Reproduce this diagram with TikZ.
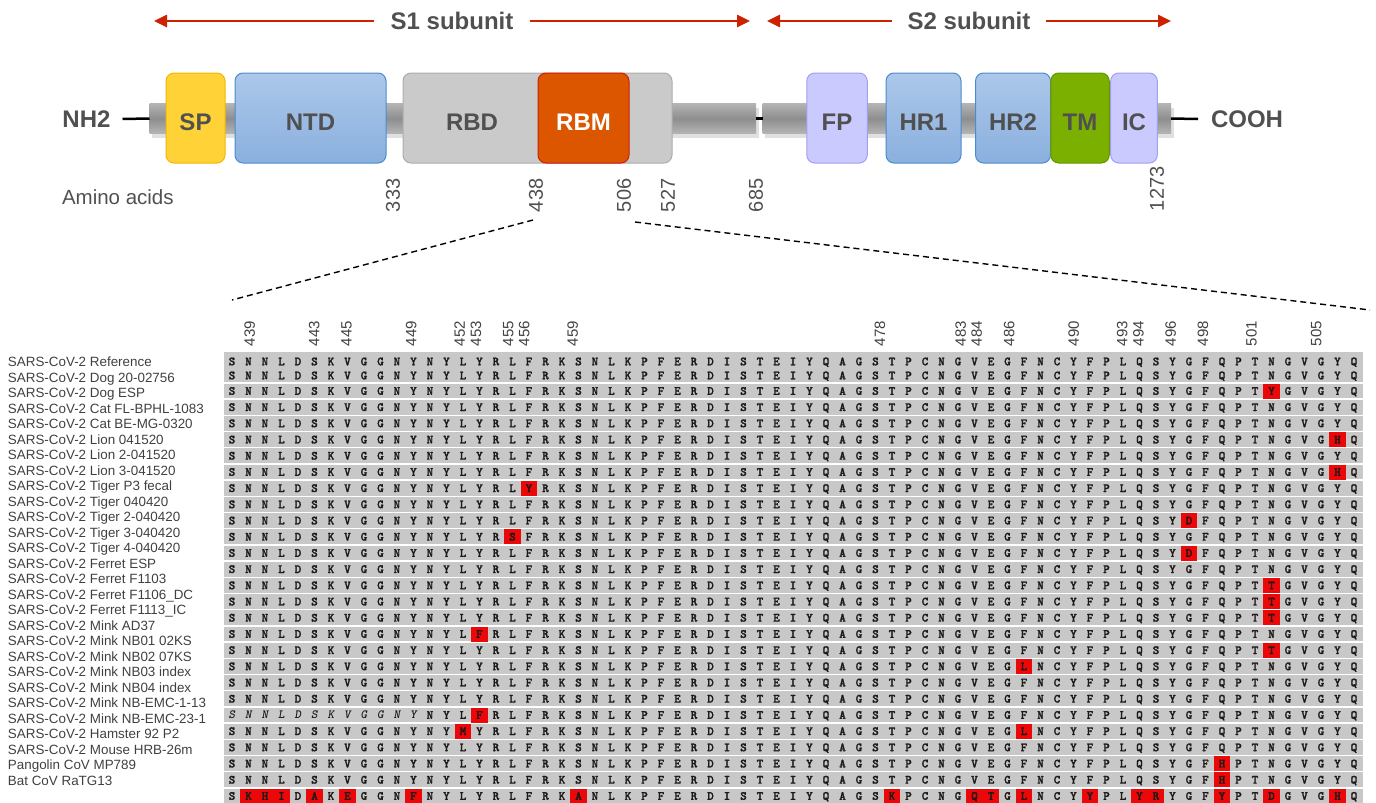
\documentclass[tikz,border=0pt]{standalone}
\usepackage{fontspec}
\setmainfont{Liberation Sans}
\newfontfamily\seqfont{lmmonolt10-bold.otf}[FakeBold=1.6]
\newfontfamily\seqslant{lmmonolt10-boldoblique.otf}
\usetikzlibrary{arrows.meta}

\begin{document}
\begin{tikzpicture}[x=1pt, y=-1pt]
            \definecolor{arrow_color}{RGB}{204,34,0}
            \definecolor{text_color}{RGB}{80,80,80}
            \definecolor{sp_fill}{RGB}{255,210,56}
            \definecolor{sp_line}{RGB}{244,182,0}
            \definecolor{hr_top}{RGB}{172,199,234}
            \definecolor{hr_bottom}{RGB}{138,176,222}
            \definecolor{hr_line}{RGB}{74,140,208}
            \definecolor{rbd_fill}{RGB}{202,202,202}
            \definecolor{rbd_line}{RGB}{172,172,172}
            \definecolor{rbm_fill}{RGB}{220,86,0}
            \definecolor{rbm_line}{RGB}{204,30,10}
            \definecolor{fp_fill}{RGB}{202,202,255}
            \definecolor{fp_line}{RGB}{160,160,240}
            \definecolor{tm_fill}{RGB}{124,176,0}
            \definecolor{tm_line}{RGB}{100,150,0}
            \definecolor{bar_top}{RGB}{180,180,180}
            \definecolor{bar_mid}{RGB}{142,142,142}
            \definecolor{seq_back}{RGB}{200,200,200}
            \definecolor{seq_text}{RGB}{30,24,22}
            \definecolor{mut_color}{RGB}{236,8,8}
            \definecolor{label_color}{RGB}{64,64,64}
            \tikzstyle{every node} = [inner sep=0pt, outer sep=0pt]
            \tikzstyle{ann} = [text=text_color, font=\fontsize{24}{26}\selectfont\bfseries, text height=17.2pt, text depth=0pt]
            \tikzstyle{dom} = [ann, rounded corners=8pt, line width=1pt, minimum height=90pt, text height=25pt]
            \tikzstyle{barseg} = [top color=bar_top, bottom color=bar_top, middle color=bar_mid, minimum height=30pt]
            \tikzstyle{aanum} = [text=text_color, font=\fontsize{20}{22}\selectfont, rotate=90, anchor=west]
            \tikzstyle{posnum} = [text=label_color, font=\fontsize{15}{16}\selectfont, rotate=90, anchor=west]
            \tikzstyle{subarrow} = [arrow_color, line width=2.7pt, -{Triangle[length=13pt, width=12pt]}]
            \tikzstyle{termline} = [black, line width=2.5pt]
            \tikzstyle{zoomline} = [black, line width=1.4pt, dash pattern=on 6pt off 4pt]
            \tikzstyle{resid} = [text=seq_text, font=\fontsize{12.5}{13}\seqfont, text height=7.6pt, text depth=0pt]
            \tikzstyle{resslant} = [resid, font=\fontsize{12.5}{13}\seqslant]
            \tikzstyle{mut} = [resid, fill=mut_color, minimum width=16.5pt, minimum height=15pt]
            \tikzstyle{rowlabel} = [text=label_color, font=\fontsize{13.4}{14}\selectfont, anchor=west, text height=9.6pt, text depth=0pt]
            \useasboundingbox (0,0) rectangle (1376,803);
            \node[ann, inner xsep=17pt] (s1) at (452,21) {S1 subunit};
            \node[ann, inner xsep=16pt] (s2) at (969,21) {S2 subunit};
            \coordinate (s1l) at (154,21);
            \coordinate (s1r) at (750,21);
            \coordinate (s2l) at (767,21);
            \coordinate (s2r) at (1171,21);
            \draw[subarrow] (s1.west) -- (s1l);
            \draw[subarrow] (s1.east) -- (s1r);
            \draw[subarrow] (s2.west) -- (s2l);
            \draw[subarrow] (s2.east) -- (s2r);
            \fill[black, opacity=0.12] (152,108) rectangle (759,138);
            \fill[black, opacity=0.12] (765,108) rectangle (1174,138);
            \node[barseg, minimum width=606.5pt] (bar1) at (452.75,118.5) {};
            \node[barseg, minimum width=408.4pt] (bar2) at (966.8,118.5) {};
            \draw[termline] (bar1.east) -- (bar2.west);
            \node[ann, inner xsep=12pt] (nh2) at (86.5,119) {NH2};
            \node[ann, inner xsep=13pt] (cooh) at (1247,119) {COOH};
            \draw[termline] (nh2.east) -- (bar1.west);
            \draw[termline] (bar2.east) -- (cooh.west);
            \node[dom, fill=sp_fill, draw=sp_line, minimum width=59pt] (sp) at (195.5,118) {SP};
            \node[dom, top color=hr_top, bottom color=hr_bottom, draw=hr_line, minimum width=151pt] (ntd) at (310.5,118) {NTD};
            \node[dom, fill=rbd_fill, draw=rbd_line, minimum width=269pt] (rbd) at (537.5,118) {};
            \node[ann] (rbdtext) at (472,122) {RBD};
            \node[dom, fill=rbm_fill, draw=rbm_line, text=white, minimum width=91pt] (rbm) at (583.5,118) {RBM};
            \node[dom, fill=fp_fill, draw=fp_line, minimum width=60.5pt] (fp) at (837,118) {FP};
            \node[dom, top color=hr_top, bottom color=hr_bottom, draw=hr_line, minimum width=75pt] (hr1) at (923.5,118) {HR1};
            \node[dom, top color=hr_top, bottom color=hr_bottom, draw=hr_line, minimum width=75pt] (hr2) at (1013,118) {HR2};
            \node[dom, fill=tm_fill, draw=tm_line, minimum width=58.5pt] (tm) at (1080,118) {TM};
            \node[dom, fill=fp_fill, draw=fp_line, minimum width=46.6pt] (ic) at (1134,118) {IC};
            \node[anchor=west, text=text_color, font=\fontsize{20.5}{22}\selectfont] (aa) at (62,197) {Amino acids};
            \node[aanum] (n333) at (393,212) {333};
            \node[aanum] (n438) at (536,212) {438};
            \node[aanum] (n506) at (624,212) {506};
            \node[aanum] (n527) at (668,212) {527};
            \node[aanum] (n685) at (756,212) {685};
            \node[aanum] (n1273) at (1157,211) {1273};
            \coordinate (zl) at (232,300);
            \coordinate (zr) at (1370,310);
            \draw[zoomline] ([shift={(-3pt,-8pt)}]n438.west) -- (zl);
            \draw[zoomline] ([shift={(11pt,-10pt)}]n506.west) -- (zr);
            \foreach \p in {439,443,445,449,452,453,455,456,459,478,483,484,486,490,493,494,496,498,501,505}
                \node[posnum] (p\p) at ({249.6+(\p-439)*16.16},346) {\p};
            \fill[seq_back] (224,352) rectangle (1363,803);
            \draw[white, line width=1.5pt] (224,383.2) -- (1363,383.2);
            \foreach \k in {3,...,27} {
                \pgfmathsetmacro{\sy}{399.1+(\k-3)*16.2}
                \draw[white, line width=1.5pt] (224,\sy) -- (1363,\sy);
            }
            \def\refseq{S,N,N,L,D,S,K,V,G,G,N,Y,N,Y,L,Y,R,L,F,R,K,S,N,L,K,P,F,E,R,D,I,S,T,E,I,Y,Q,A,G,S,T,P,C,N,G,V,E,G,F,N,C,Y,F,P,L,Q,S,Y,G,F,Q,P,T,N,G,V,G,Y,Q}
            \foreach \r in {1,...,28} {
                \pgfmathsetmacro{\ry}{\r<3 ? 347.5+14*\r : 391+(\r-3)*16.2}
                \foreach \a [count=\j] in \refseq {
                    \def\resstyle{resid}
                    \ifnum\r=23 \ifnum\j<13 \def\resstyle{resslant}\fi\fi
                    \node[\resstyle] (s-\r-\j) at ({232+(\j-1)*16.5},\ry) {\a};
                }
            }
            \foreach \r/\p/\a in {3/501/Y, 6/505/H, 8/505/H, 9/456/Y, 11/496/D, 12/455/S, 13/496/D, 15/501/T, 16/501/T, 17/501/T, 18/453/F, 19/501/T, 20/486/L, 23/453/F, 24/452/M, 24/486/L, 26/498/H, 27/498/H, 28/439/K, 28/440/H, 28/441/I, 28/443/A, 28/445/E, 28/449/F, 28/459/A, 28/478/K, 28/483/Q, 28/484/T, 28/486/L, 28/490/Y, 28/493/Y, 28/494/R, 28/498/Y, 28/501/D, 28/505/H} {
                \pgfmathsetmacro{\ry}{\r<3 ? 347.5+14*\r : 391+(\r-3)*16.2}
                \node[mut] (m-\r-\p) at ({232+(\p-438)*16.5},\ry) {\a};
            }
            \foreach \t [count=\i] in {SARS-CoV-2 Reference, SARS-CoV-2 Dog 20-02756, SARS-CoV-2 Dog ESP, SARS-CoV-2 Cat FL-BPHL-1083, SARS-CoV-2 Cat BE-MG-0320, SARS-CoV-2 Lion 041520, SARS-CoV-2 Lion 2-041520, SARS-CoV-2 Lion 3-041520, SARS-CoV-2 Tiger P3 fecal, SARS-CoV-2 Tiger 040420, SARS-CoV-2 Tiger 2-040420, SARS-CoV-2 Tiger 3-040420, SARS-CoV-2 Tiger 4-040420, SARS-CoV-2 Ferret ESP, SARS-CoV-2 Ferret F1103, SARS-CoV-2 Ferret F1106\_DC, SARS-CoV-2 Ferret F1113\_IC, SARS-CoV-2 Mink AD37, SARS-CoV-2 Mink NB01 02KS, SARS-CoV-2 Mink NB02 07KS, SARS-CoV-2 Mink NB03 index, SARS-CoV-2 Mink NB04 index, SARS-CoV-2 Mink NB-EMC-1-13, SARS-CoV-2 Mink NB-EMC-23-1, SARS-CoV-2 Hamster 92 P2, SARS-CoV-2 Mouse HRB-26m, Pangolin CoV MP789, Bat CoV RaTG13}
                \node[rowlabel] (l\i) at (8,{362+(\i-1)*15.5}) {\t};
        \end{tikzpicture}
\end{document}
